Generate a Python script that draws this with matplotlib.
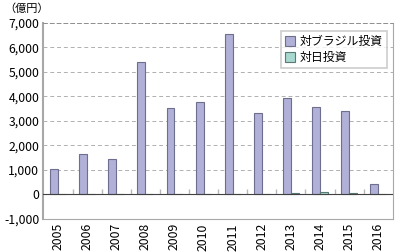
import numpy as np
import matplotlib.pyplot as plt

plt.rcParams['font.family'] = ['Noto Sans CJK JP', 'DejaVu Sans']

years = ['2005', '2006', '2007', '2008', '2009', '2010',
         '2011', '2012', '2013', '2014', '2015', '2016']
brazil = [1050, 1650, 1450, 5380, 3520, 3750, 6550, 3300, 3950, 3550, 3400, 420]
japan = [10, 5, 5, 5, 5, 10, 5, 5, 60, 80, 70, 5]

x = np.arange(len(years))
w = 0.27

fig = plt.figure(figsize=(3.98, 2.52), dpi=100)
ax = fig.add_axes([0.109, 0.131, 0.878, 0.779])

ax.bar(x - w / 2, brazil, w, color='#b0b0d8', edgecolor='#6e6e8e', linewidth=0.8,
       label='対ブラジル投資', zorder=3)
ax.bar(x + w / 2, japan, w, color='#a8d8d0', edgecolor='#5a7a74', linewidth=0.8,
       label='対日投資', zorder=3)

ax.set_xlim(-0.5, len(years) - 0.5)
ax.set_ylim(-1000, 7000)
ax.set_yticks(np.arange(-1000, 7001, 1000))
ax.set_yticklabels([f'{v:,}' for v in range(-1000, 7001, 1000)], fontsize=8.8)
ax.set_xticks(x)
ax.set_xticklabels(years, rotation=90, fontsize=8.8)
ax.tick_params(axis='x', length=0, pad=3)
ax.tick_params(axis='y', length=0, pad=3)

ax.yaxis.grid(True, linestyle=(0, (4, 3)), color='#b0b0b0', linewidth=0.7)
ax.axhline(0, color='#404040', linewidth=0.8, zorder=4)
# tick marks between categories, standing on the zero line
ax.vlines(x[:-1] + 0.5, 0, 230, colors='#b8b8b8', linewidth=1.0, zorder=2)

for s in ['left', 'right', 'bottom']:
    ax.spines[s].set_color('#a8a8a8')
ax.spines['left'].set_linewidth(1.5)
ax.spines['top'].set_linestyle((0, (4, 3)))
ax.spines['top'].set_color('#909090')
ax.spines['top'].set_linewidth(0.7)

leg = ax.legend(loc='upper right', bbox_to_anchor=(0.99, 0.97), fontsize=8.6,
                frameon=True, fancybox=False, edgecolor='#c0c0c0',
                handlelength=0.85, handleheight=0.85, handletextpad=0.35,
                borderpad=0.35, labelspacing=0.25, borderaxespad=0.2)
leg.get_frame().set_linewidth(1.2)

fig.text(0.012, 0.985, '（億円）', fontsize=8, va='top', ha='left')

fig.savefig('out.png', dpi=100)
